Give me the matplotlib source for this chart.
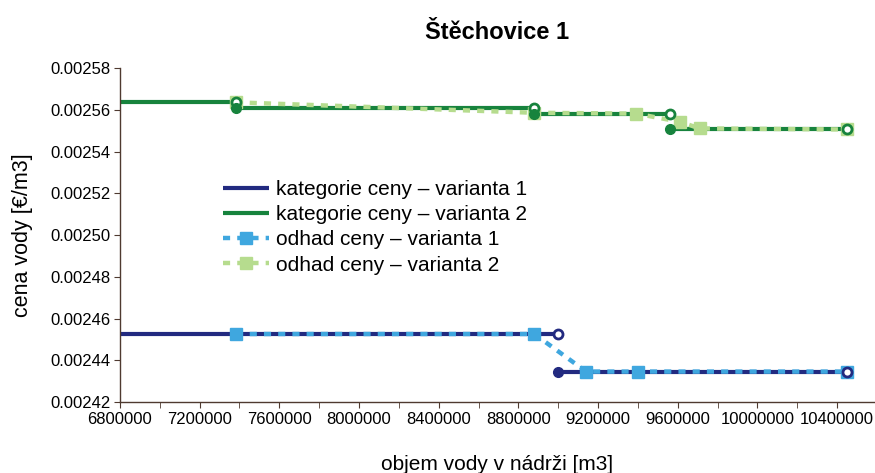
import matplotlib
matplotlib.use('Agg')
import matplotlib.pyplot as plt
from matplotlib.ticker import MultipleLocator, FuncFormatter

plt.rcParams['font.family'] = ['Liberation Sans', 'DejaVu Sans']

# kategorie ceny: schodovité úseky (začátek, konec, cena)
kat1_start = [6800000, 9000000]
kat1_end = [9000000, 10450000]
kat1_cena = [0.0024526, 0.0024346]

kat2_start = [6800000, 7380000, 8880000, 9560000]
kat2_end = [7380000, 8880000, 9560000, 10450000]
kat2_cena = [0.0025636, 0.0025607, 0.0025582, 0.0025506]

# odhad ceny
odh1_objem = [7380000, 8880000, 9140000, 9400000, 10450000]
odh1_cena = [0.0024526, 0.0024526, 0.0024346, 0.0024346, 0.0024346]

odh2_objem = [7380000, 8880000, 9390000, 9610000, 9710000, 10450000]
odh2_cena = [0.0025636, 0.0025586, 0.0025582, 0.0025543, 0.0025511, 0.0025506]

navy = '#222a80'
green = '#17833d'
lblue = '#3fa7df'
lgreen = '#b6dc8e'

fig = plt.figure(figsize=(8.75, 4.73), dpi=100)
ax = fig.add_axes([0.1371, 0.150, 0.8629, 0.706])


def kategorie(starts, ends, vals, color, label):
    for i, (s, e, v) in enumerate(zip(starts, ends, vals)):
        ax.plot([s, e], [v, v], color=color, lw=3.0, solid_capstyle='butt', zorder=2,
                label=label if i == 0 else None)
        # otevřený kroužek na konci úseku
        ax.plot(e, v, 'o', ms=6.5, mfc='white', mec=color, mew=2.0, zorder=5)
        if i > 0:
            ax.plot(s, v, 'o', ms=7, mfc=color, mec=color, zorder=5)


kategorie(kat1_start, kat1_end, kat1_cena, navy, 'kategorie ceny – varianta 1')
kategorie(kat2_start, kat2_end, kat2_cena, green, 'kategorie ceny – varianta 2')

ax.plot(odh1_objem, odh1_cena, color=lblue, lw=3.2, ls=(0, (1.6, 1.6)),
        marker='s', ms=8.5, mfc=lblue, mec=lblue, zorder=4,
        label='odhad ceny – varianta 1')
ax.plot(odh2_objem, odh2_cena, color=lgreen, lw=3.2, ls=(0, (1.6, 1.6)),
        marker='s', ms=8.5, mfc=lgreen, mec=lgreen, zorder=4,
        label='odhad ceny – varianta 2')

ax.set_xlim(6800000, 10590000)
ax.set_ylim(0.00242, 0.00258)
ax.xaxis.set_major_locator(MultipleLocator(400000))
ax.xaxis.set_minor_locator(MultipleLocator(200000))
ax.yaxis.set_major_locator(MultipleLocator(0.00002))
ax.xaxis.set_major_formatter(FuncFormatter(lambda v, p: f'{v:.0f}'))
ax.yaxis.set_major_formatter(FuncFormatter(lambda v, p: f'{v:.5f}'))

spine_c = '#4f3a30'
for s in ['top', 'right']:
    ax.spines[s].set_visible(False)
for s in ['left', 'bottom']:
    ax.spines[s].set_color(spine_c)
    ax.spines[s].set_linewidth(1.0)
ax.tick_params(axis='both', which='both', direction='out', length=4,
               color=spine_c, labelsize=12, pad=3)

ax.set_title('Štěchovice 1', fontsize=17, fontweight='bold', pad=21)
ax.set_xlabel('objem vody v nádrži [m3]', fontsize=15, labelpad=20)
ax.set_ylabel('cena vody [€/m3]', fontsize=15.5, labelpad=12)

ax.legend(loc='upper left', bbox_to_anchor=(0.125, 0.69), frameon=False,
          fontsize=15, handlelength=2.2, handletextpad=0.35, labelspacing=0.3,
          borderaxespad=0)

fig.savefig('out.png', dpi=100)
